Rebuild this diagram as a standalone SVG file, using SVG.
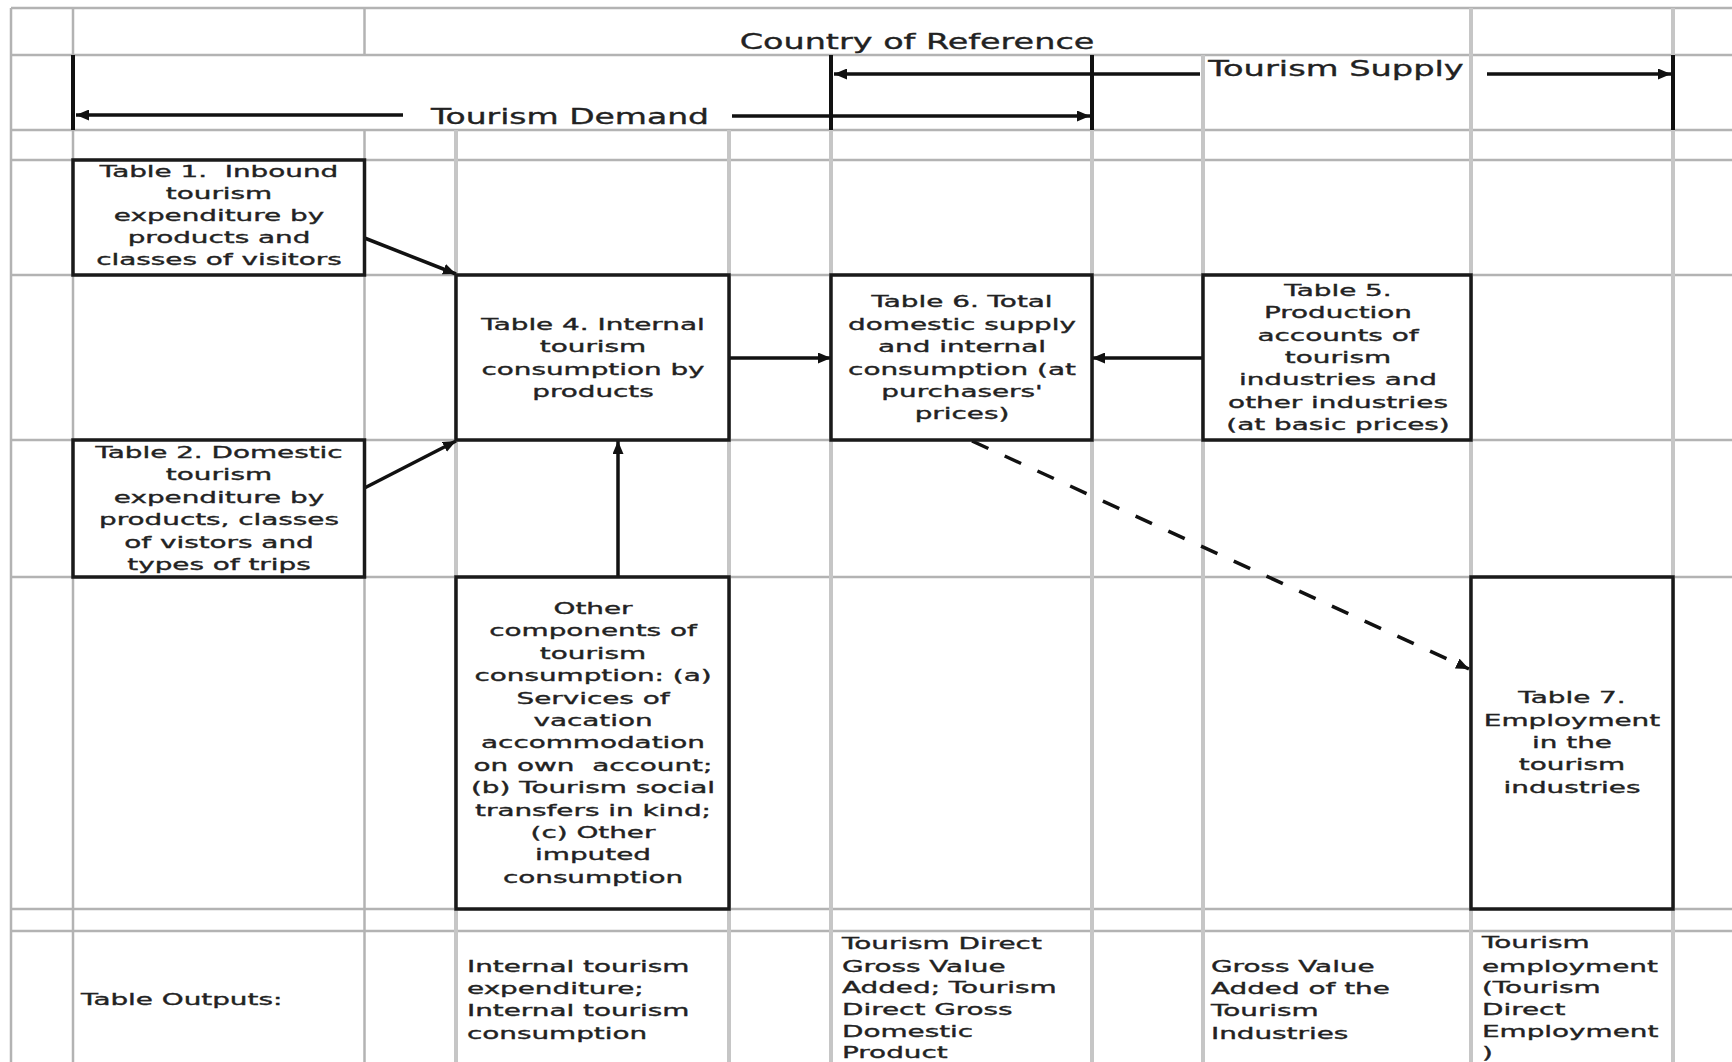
<svg xmlns="http://www.w3.org/2000/svg" width="1732" height="1062" viewBox="0 0 1732 1062">
<style>
.g{stroke:#b3b3b3;stroke-width:2.5;fill:none}
.gw{stroke:#c6c6c6;stroke-width:4;fill:none}
.bar{stroke:#111;stroke-width:4;fill:none}
.box{fill:#fff;stroke:#1a1a1a;stroke-width:3.5}
.c{stroke:#111;stroke-width:3.5;fill:none}
.d{stroke:#111;stroke-width:3.5;fill:none;stroke-dasharray:18 18}
text{font-family:"DejaVu Sans","Verdana",sans-serif;fill:#222;stroke:#222;stroke-width:0.35}
.h{font-size:22px;text-anchor:middle}
.t{font-size:16px;text-anchor:middle}
.l{font-size:16px;text-anchor:start}
.pre{white-space:pre}
</style>
<defs>
<marker id="ah" viewBox="0 0 13 11" refX="13" refY="5.5" markerWidth="13" markerHeight="11" markerUnits="userSpaceOnUse" orient="auto">
<path d="M0,0 L13,5.5 L0,11 z" fill="#111"/>
</marker>
</defs>
<rect width="1732" height="1062" fill="#fff"/>
<g id="grid">
<line class="g" x1="11" y1="8" x2="1732" y2="8"/>
<line class="g" x1="11" y1="55" x2="1732" y2="55"/>
<line class="g" x1="11" y1="130" x2="1732" y2="130"/>
<line class="g" x1="11" y1="160" x2="1732" y2="160"/>
<line class="g" x1="11" y1="275" x2="1732" y2="275"/>
<line class="g" x1="11" y1="440" x2="1732" y2="440"/>
<line class="g" x1="11" y1="577" x2="1732" y2="577"/>
<line class="g" x1="11" y1="909" x2="1732" y2="909"/>
<line class="g" x1="11" y1="931" x2="1732" y2="931"/>
<line class="g" x1="11" y1="8" x2="11" y2="1062"/>
<line class="g" x1="73" y1="8" x2="73" y2="55"/>
<line class="g" x1="73" y1="130" x2="73" y2="1062"/>
<line class="g" x1="364.5" y1="8" x2="364.5" y2="55"/>
<line class="g" x1="364.5" y1="130" x2="364.5" y2="1062"/>
<line class="gw" x1="456" y1="130" x2="456" y2="1062"/>
<line class="gw" x1="729" y1="130" x2="729" y2="1062"/>
<line class="gw" x1="831" y1="130" x2="831" y2="1062"/>
<line class="gw" x1="1092" y1="130" x2="1092" y2="1062"/>
<line class="gw" x1="1203" y1="55" x2="1203" y2="1062"/>
<line class="gw" x1="1471" y1="8" x2="1471" y2="1062"/>
<line class="gw" x1="1673" y1="8" x2="1673" y2="55"/>
<line class="gw" x1="1673" y1="130" x2="1673" y2="1062"/>
</g>
<g id="header">
<line class="bar" x1="73" y1="55" x2="73" y2="130"/>
<line class="bar" x1="831" y1="55" x2="831" y2="130"/>
<line class="bar" x1="1092" y1="55" x2="1092" y2="130"/>
<line class="bar" x1="1673" y1="55" x2="1673" y2="130"/>
<g transform="translate(917,0) scale(1.52,1)"><text class="h" x="0" y="49">Country of Reference</text></g>
<g transform="translate(570,0) scale(1.5,1)"><text class="h" x="0" y="124">Tourism Demand</text></g>
<g transform="translate(1336,0) scale(1.53,1)"><text class="h" x="0" y="76">Tourism Supply</text></g>
</g>
<g id="connectors">
<line class="c" x1="403" y1="115" x2="76" y2="115" marker-end="url(#ah)"/>
<line class="c" x1="732" y1="116" x2="1090" y2="116" marker-end="url(#ah)"/>
<line class="c" x1="1200" y1="74" x2="834" y2="74" marker-end="url(#ah)"/>
<line class="c" x1="1487" y1="74" x2="1671" y2="74" marker-end="url(#ah)"/>
<line class="c" x1="364.5" y1="238" x2="456" y2="274" marker-end="url(#ah)"/>
<line class="c" x1="364.5" y1="488" x2="456" y2="441" marker-end="url(#ah)"/>
<line class="c" x1="729" y1="358" x2="831" y2="358" marker-end="url(#ah)"/>
<line class="c" x1="1203" y1="358" x2="1092" y2="358" marker-end="url(#ah)"/>
<line class="c" x1="618" y1="577" x2="618" y2="441" marker-end="url(#ah)"/>
<line class="d" x1="972" y1="441" x2="1469" y2="669" marker-end="url(#ah)"/>
</g>
<g id="table1">
<rect class="box" x="73" y="160" width="291.5" height="115"/>
<g transform="translate(219,0) scale(1.74,1)">
<text class="t pre" x="0" y="177">Table 1.  Inbound</text>
<text class="t" x="0" y="199">tourism</text>
<text class="t" x="0" y="221">expenditure by</text>
<text class="t" x="0" y="243">products and</text>
<text class="t" x="0" y="265">classes of visitors</text>
</g>
</g>
<g id="table2">
<rect class="box" x="73" y="440" width="291.5" height="137"/>
<g transform="translate(219,0) scale(1.74,1)">
<text class="t" x="0" y="458">Table 2. Domestic</text>
<text class="t" x="0" y="480.5">tourism</text>
<text class="t" x="0" y="503">expenditure by</text>
<text class="t" x="0" y="525.5">products, classes</text>
<text class="t" x="0" y="548">of vistors and</text>
<text class="t" x="0" y="570">types of trips</text>
</g>
</g>
<g id="table4">
<rect class="box" x="456" y="275" width="273" height="165"/>
<g transform="translate(593,0) scale(1.74,1)">
<text class="t" x="0" y="330.5">Table 4. Internal</text>
<text class="t" x="0" y="352.5">tourism</text>
<text class="t" x="0" y="375">consumption by</text>
<text class="t" x="0" y="397">products</text>
</g>
</g>
<g id="table6">
<rect class="box" x="831" y="275" width="261" height="165"/>
<g transform="translate(962,0) scale(1.74,1)">
<text class="t" x="0" y="307.5">Table 6. Total</text>
<text class="t" x="0" y="330">domestic supply</text>
<text class="t" x="0" y="352.3">and internal</text>
<text class="t" x="0" y="375">consumption (at</text>
<text class="t" x="0" y="397.3">purchasers'</text>
<text class="t" x="0" y="419.5">prices)</text>
</g>
</g>
<g id="table5">
<rect class="box" x="1203" y="275" width="268" height="165"/>
<g transform="translate(1338,0) scale(1.74,1)">
<text class="t" x="0" y="296.5">Table 5.</text>
<text class="t" x="0" y="318.5">Production</text>
<text class="t" x="0" y="340.7">accounts of</text>
<text class="t" x="0" y="363">tourism</text>
<text class="t" x="0" y="385.5">industries and</text>
<text class="t" x="0" y="408">other industries</text>
<text class="t" x="0" y="430.5">(at basic prices)</text>
</g>
</g>
<g id="other">
<rect class="box" x="456" y="577" width="273" height="332"/>
<g transform="translate(593,0) scale(1.74,1)">
<text class="t" x="0" y="614">Other</text>
<text class="t" x="0" y="636.4">components of</text>
<text class="t" x="0" y="658.8">tourism</text>
<text class="t" x="0" y="681.2">consumption: (a)</text>
<text class="t" x="0" y="703.6">Services of</text>
<text class="t" x="0" y="726">vacation</text>
<text class="t" x="0" y="748.4">accommodation</text>
<text class="t pre" x="0" y="770.8">on own  account;</text>
<text class="t" x="0" y="793.2">(b) Tourism social</text>
<text class="t" x="0" y="815.6">transfers in kind;</text>
<text class="t" x="0" y="838">(c) Other</text>
<text class="t" x="0" y="860.4">imputed</text>
<text class="t" x="0" y="882.8">consumption</text>
</g>
</g>
<g id="table7">
<rect class="box" x="1471" y="577" width="202" height="332"/>
<g transform="translate(1572,0) scale(1.74,1)">
<text class="t" x="0" y="703.5">Table 7.</text>
<text class="t" x="0" y="725.7">Employment</text>
<text class="t" x="0" y="748">in the</text>
<text class="t" x="0" y="770.5">tourism</text>
<text class="t" x="0" y="793">industries</text>
</g>
</g>
<g id="outputs">
<g transform="translate(81,0) scale(1.74,1)">
<text class="l" x="0" y="1005">Table Outputs:</text>
</g>
<g transform="translate(467,0) scale(1.74,1)">
<text class="l" x="0" y="971.7">Internal tourism</text>
<text class="l" x="0" y="994">expenditure;</text>
<text class="l" x="0" y="1016.5">Internal tourism</text>
<text class="l" x="0" y="1039">consumption</text>
</g>
<g transform="translate(842,0) scale(1.74,1)">
<text class="l" x="0" y="949.3">Tourism Direct</text>
<text class="l" x="0" y="971.7">Gross Value</text>
<text class="l" x="0" y="993.5">Added; Tourism</text>
<text class="l" x="0" y="1015">Direct Gross</text>
<text class="l" x="0" y="1036.7">Domestic</text>
<text class="l" x="0" y="1058.3">Product</text>
</g>
<g transform="translate(1211,0) scale(1.74,1)">
<text class="l" x="0" y="971.7">Gross Value</text>
<text class="l" x="0" y="994">Added of the</text>
<text class="l" x="0" y="1016.5">Tourism</text>
<text class="l" x="0" y="1039">Industries</text>
</g>
<g transform="translate(1482,0) scale(1.74,1)">
<text class="l" x="0" y="948.3">Tourism</text>
<text class="l" x="0" y="971.7">employment</text>
<text class="l" x="0" y="993.5">(Tourism</text>
<text class="l" x="0" y="1015">Direct</text>
<text class="l" x="0" y="1036.7">Employment</text>
<text class="l" x="0" y="1058.3">)</text>
</g>
</g>
</svg>
